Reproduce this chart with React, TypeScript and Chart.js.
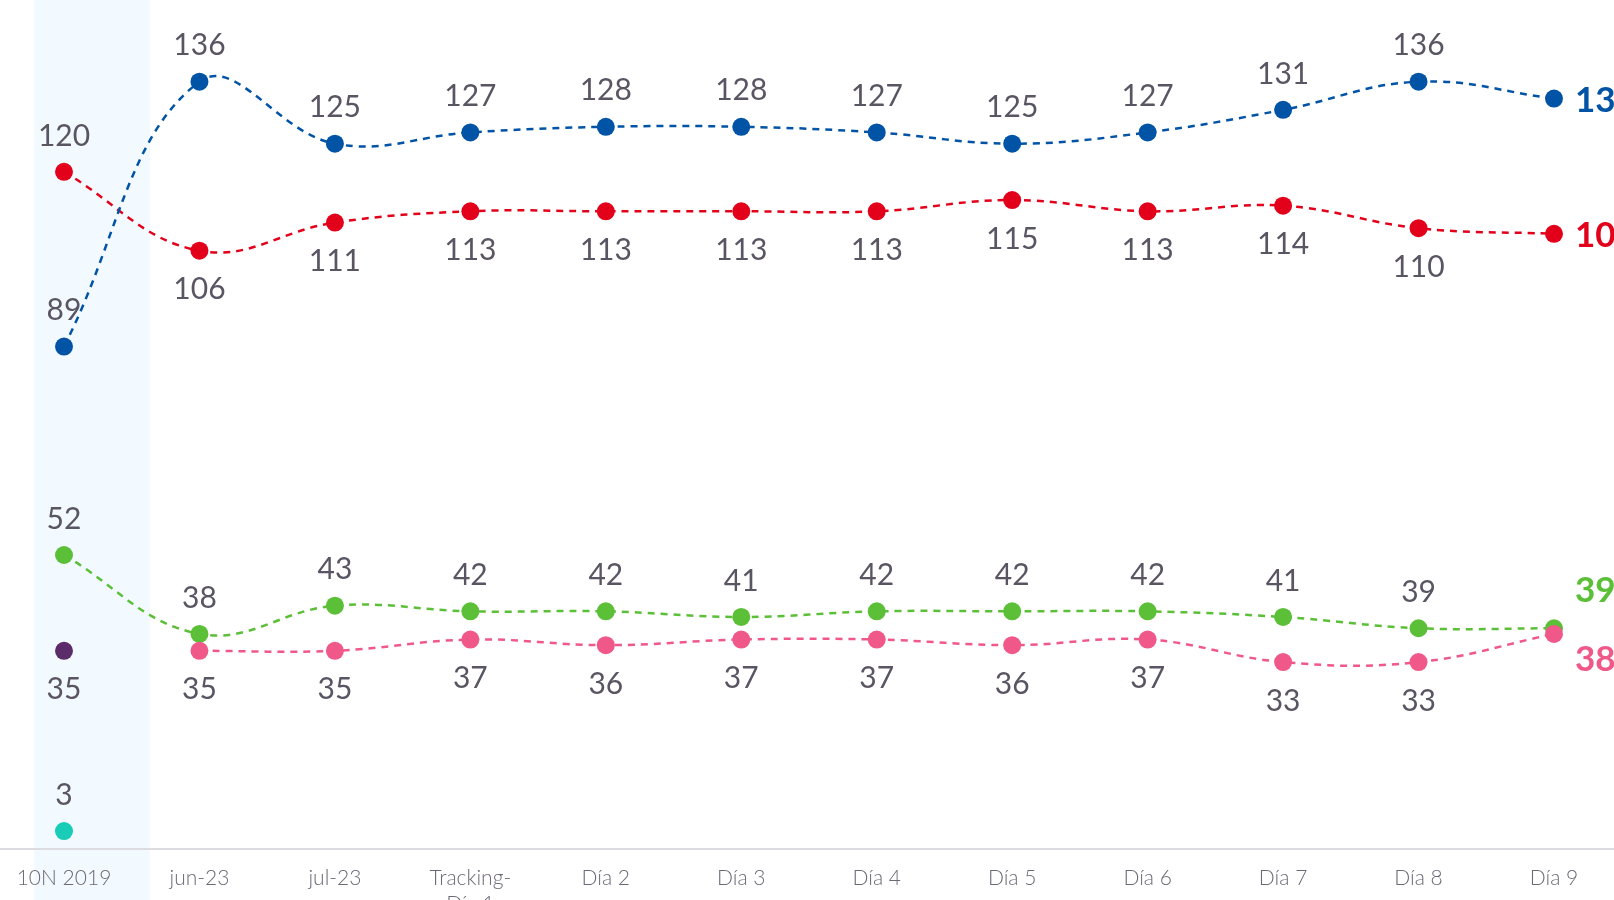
import React, { useEffect, useRef } from "react";
import { Chart, registerables } from "chart.js";

Chart.register(...registerables);

const categories: (string | string[])[] = [
  "10N 2019", "jun-23", "jul-23", ["Tracking-", "Día 1"], "Día 2", "Día 3",
  "Día 4", "Día 5", "Día 6", "Día 7", "Día 8", "Día 9",
];

const blueValues = [89, 136, 125, 127, 128, 128, 127, 125, 127, 131, 136, 133];
const redValues = [120, 106, 111, 113, 113, 113, 113, 115, 113, 114, 110, 109];
const greenValues = [52, 38, 43, 42, 42, 41, 42, 42, 42, 41, 39, 39];
const pinkValues = [null, 35, 35, 37, 36, 37, 37, 36, 37, 33, 33, 38];
const purpleValues = [35, null, null, null, null, null, null, null, null, null, null, null];
const tealValues = [3, null, null, null, null, null, null, null, null, null, null, null];

const BLUE = "#0053a5";
const RED = "#e2001a";
const GREEN = "#5bbf37";
const PINK = "#ef5888";
const PURPLE = "#5b2c6a";
const TEAL = "#18ccb7";

const FONT = "Lato, 'Open Sans', sans-serif";
const LABEL_GREY = "#5a5562";

// label placement (style): offset in px for grey labels, end label offset
const labelStyle: Record<string, { off: number; first?: number; end?: number }> = {
  blue: { off: -36, end: 2 },
  red: { off: 39, first: -36, end: 2 },
  pink: { off: 39, end: 26 },
  green: { off: -36, end: -38 },
  purple: { off: 39 },
  teal: { off: -36 },
};

const bgPlugin = {
  id: "bgPlugin",
  beforeDraw(chart: any) {
    const { ctx } = chart;
    const x = chart.scales.x;
    const x0 = x.getPixelForValue(0);
    const s = x.getPixelForValue(1) - x0;
    ctx.save();
    ctx.fillStyle = "#f2faff";
    ctx.fillRect(x0 - 0.22 * s, 0, 0.855 * s, chart.height);
    ctx.restore();
  },
  beforeDatasetsDraw(chart: any) {
    const { ctx, chartArea } = chart;
    ctx.save();
    ctx.strokeStyle = "#dcdbe0";
    ctx.lineWidth = 2;
    ctx.beginPath();
    ctx.moveTo(0, chartArea.bottom + 1);
    ctx.lineTo(chart.width, chartArea.bottom + 1);
    ctx.stroke();
    ctx.restore();
  },
};

const labelPlugin = {
  id: "labelPlugin",
  afterDatasetsDraw(chart: any) {
    const { ctx } = chart;
    ctx.save();
    ctx.textAlign = "center";
    ctx.textBaseline = "middle";
    chart.data.datasets.forEach((ds: any, i: number) => {
      const meta = chart.getDatasetMeta(i);
      const st = labelStyle[ds.key];
      const n = ds.data.length;
      meta.data.forEach((pt: any, j: number) => {
        const v = ds.data[j];
        if (v === null || v === undefined) return;
        if (j === n - 1 && st.end !== undefined) {
          ctx.font = `bold 35px ${FONT}`;
          ctx.fillStyle = ds.borderColor;
          ctx.textAlign = "left";
          ctx.fillText(String(v), pt.x + 21, pt.y + st.end);
          ctx.textAlign = "center";
          return;
        }
        const off = j === 0 && st.first !== undefined ? st.first : st.off;
        ctx.font = `400 30px ${FONT}`;
        ctx.fillStyle = LABEL_GREY;
        ctx.fillText(String(v), pt.x, pt.y + off);
      });
    });
    ctx.restore();
  },
};

function mk(key: string, data: (number | null)[], color: string, line = true) {
  return {
    key,
    data,
    borderColor: color,
    backgroundColor: color,
    pointBackgroundColor: color,
    pointBorderWidth: 0,
    pointRadius: 9,
    borderWidth: 2.5,
    borderDash: [7, 6],
    tension: 0.4,
    showLine: line,
    fill: false,
  };
}

export default function App() {
  const ref = useRef<HTMLCanvasElement>(null);
  useEffect(() => {
    if (!ref.current) return;
    const chart = new Chart(ref.current, {
      type: "line",
      data: {
        labels: categories as any,
        datasets: [
          mk("blue", blueValues, BLUE),
          mk("red", redValues, RED),
          mk("pink", pinkValues, PINK),
          mk("green", greenValues, GREEN),
          mk("purple", purpleValues, PURPLE, false),
          mk("teal", tealValues, TEAL, false),
        ] as any,
      },
      options: {
        animation: false,
        responsive: false,
        layout: { autoPadding: false, padding: { left: 64, right: 60, top: 0, bottom: 0 } },
        plugins: { legend: { display: false }, tooltip: { enabled: false } },
        scales: {
          x: {
            offset: false,
            grid: { display: false },
            border: { display: false },
            afterFit: (s: any) => {
              s.height = 52;
            },
            ticks: {
              autoSkip: false,
              maxRotation: 0,
              minRotation: 0,
              padding: 10,
              color: "#6d6876",
              font: { family: FONT, size: 21, weight: "300" as any },
            },
          },
          y: { display: false, min: 0, max: 150.5 },
        },
      },
      plugins: [bgPlugin, labelPlugin],
    });
    return () => chart.destroy();
  }, []);
  return (
    <div style={{ position: "fixed", left: 0, top: 0, width: 1614, height: 900, overflow: "hidden", background: "#fff" }}>
      <canvas ref={ref} width={1614} height={900} style={{ display: "block" }} />
    </div>
  );
}
